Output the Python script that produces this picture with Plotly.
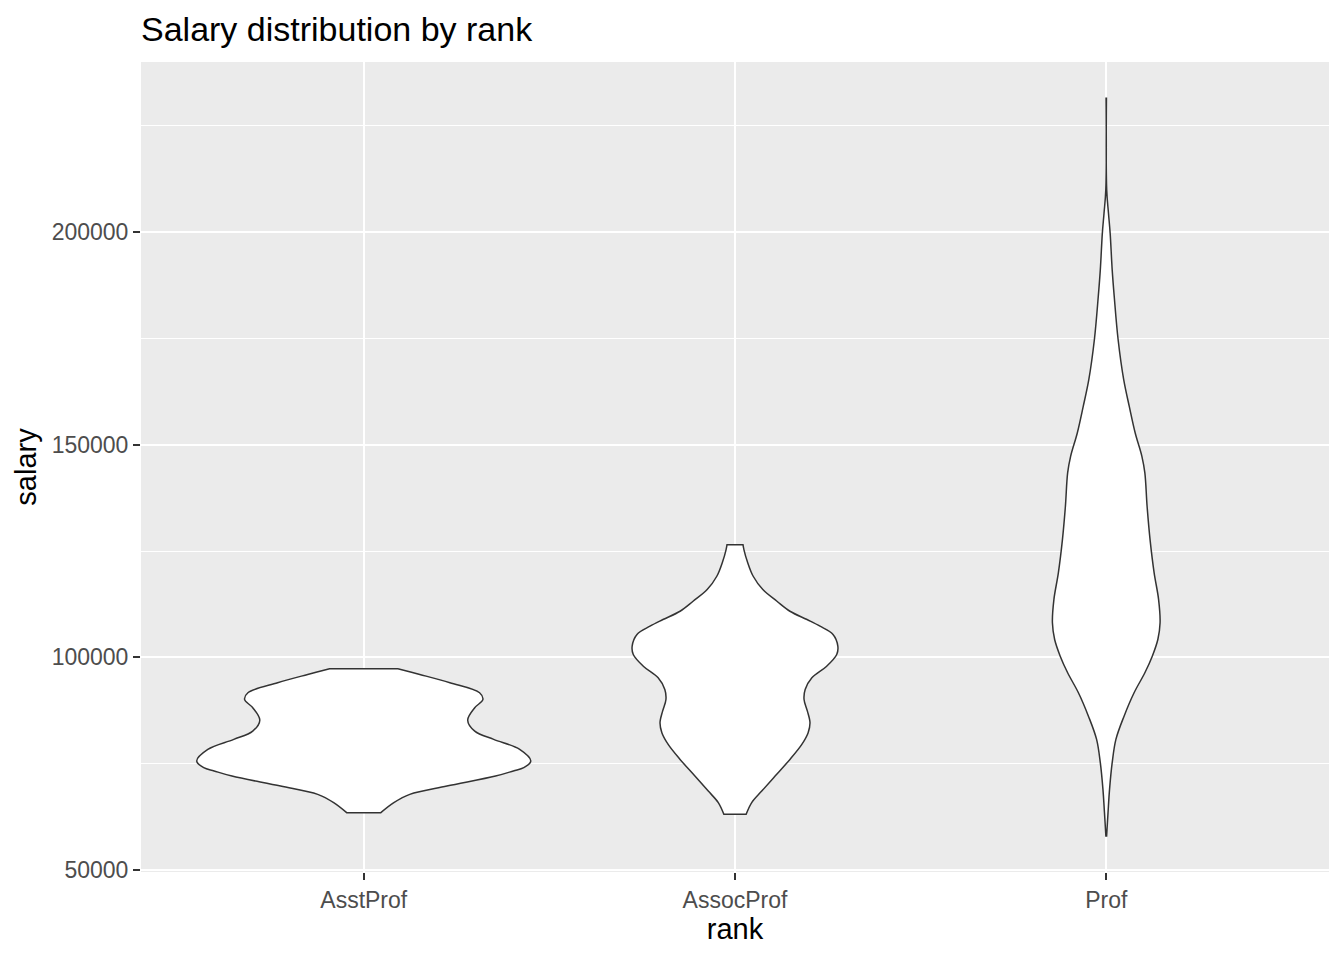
import numpy as np
import plotly.graph_objects as go

# Categories (x positions 0,1,2 on a discrete axis)
ranks = ["AsstProf", "AssocProf", "Prof"]

# Violin outlines: salary levels and half-widths (in category units)
asst_salary = [97320, 95980, 94030, 91680, 90110, 88160, 85240, 82660, 80710, 78360,
               75610, 74060, 73300, 72090, 69740, 67790, 65840, 63490]
asst_halfw = [0.092, 0.151, 0.232, 0.312, 0.321, 0.299, 0.280, 0.299, 0.350, 0.420,
              0.450, 0.431, 0.403, 0.355, 0.224, 0.124, 0.081, 0.046]

assoc_salary = [126500, 125350, 122600, 119080, 115950, 113200, 110850, 108900, 107330,
                105380, 102630, 100680, 97930, 95210, 92460, 90110, 87360, 84630, 82280,
                79530, 76010, 72090, 68560, 65840, 63090]
assoc_halfw = [0.0215, 0.024, 0.033, 0.049, 0.075, 0.113, 0.148, 0.194, 0.229,
               0.264, 0.277, 0.274, 0.247, 0.207, 0.189, 0.186, 0.195, 0.202, 0.197,
               0.180, 0.148, 0.108, 0.072, 0.045, 0.030]

prof_salary = [231480, 209940, 204460, 199760, 191140, 184870, 174690, 165300, 159020,
               152770, 147270, 143370, 135530, 127700, 119880, 113600, 108130, 104200,
               100280, 96380, 91680, 86180, 80710, 75230, 68960, 63490, 57990]
prof_halfw = [0.0005, 0.0012, 0.006, 0.0105, 0.016, 0.0215, 0.032, 0.047, 0.062,
              0.078, 0.096, 0.104, 0.110, 0.118, 0.129, 0.141, 0.145, 0.139,
              0.124, 0.104, 0.075, 0.048, 0.026, 0.016, 0.0089, 0.0048, 0.0010]

y_ticks = [50000, 100000, 150000, 200000]
y_minor = [75000, 125000, 175000, 225000]

profiles = [(asst_salary, asst_halfw), (assoc_salary, assoc_halfw), (prof_salary, prof_halfw)]


def dup_ends(a):
    a = np.asarray(a, dtype=float)
    return np.concatenate([[a[0]], a, [a[-1]]])


fig = go.Figure()
for i, (sal, hw) in enumerate(profiles):
    s = dup_ends(sal)
    w = dup_ends(hw)
    xs = np.concatenate([i - w, (i + w)[::-1], [i - w[0], i - w[0]]])
    ys = np.concatenate([s, s[::-1], [s[0], s[0]]])
    fig.add_trace(go.Scatter(
        x=xs, y=ys, mode="lines", fill="toself",
        fillcolor="white", line=dict(color="#333333", width=1.5),
        line_shape="spline", name=ranks[i], showlegend=False, hoverinfo="skip",
    ))

font_family = "Liberation Sans, Arial, sans-serif"

fig.update_layout(
    width=1344, height=960,
    margin=dict(l=141, r=15, t=62, b=88),
    paper_bgcolor="white",
    plot_bgcolor="#EBEBEB",
    font=dict(family=font_family, color="black"),
    title=dict(text="Salary distribution by rank", x=0, xref="paper", xanchor="left",
               y=1 - 29 / 960, yref="container", yanchor="middle",
               font=dict(size=34, color="black", family=font_family)),
    xaxis=dict(
        range=[-0.6, 2.6], tickvals=[0, 1, 2], ticktext=ranks,
        showgrid=True, gridcolor="white", gridwidth=2,
        zeroline=False, showline=False,
        ticks="outside", ticklen=7, tickwidth=1.5, tickcolor="#333333",
        tickfont=dict(size=23, color="#4D4D4D"),
        title=dict(text="rank", font=dict(size=29, color="black"), standoff=7),
    ),
    yaxis=dict(
        range=[49530, 240014], tickvals=y_ticks, ticktext=[str(v) for v in y_ticks],
        showgrid=True, gridcolor="white", gridwidth=2,
        minor=dict(tickvals=y_minor, showgrid=True, gridcolor="white", gridwidth=1, ticks=""),
        zeroline=False, showline=False,
        ticks="outside", ticklen=7, tickwidth=1.5, tickcolor="#333333",
        tickfont=dict(size=23, color="#4D4D4D"),
        title=dict(text="salary", font=dict(size=29, color="black"), standoff=6),
    ),
)

fig.write_html("out.html")
